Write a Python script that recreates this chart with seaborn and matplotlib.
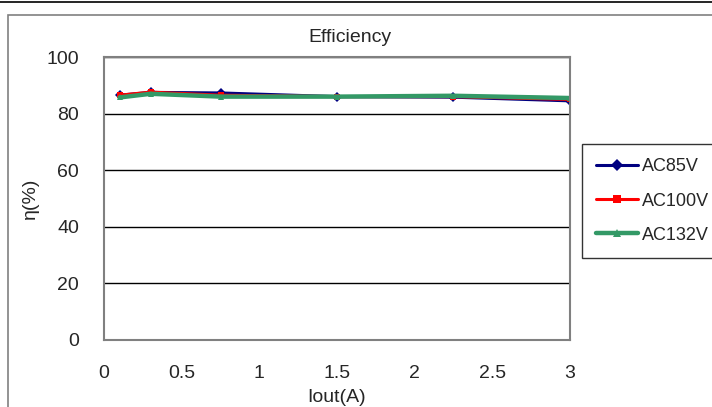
import matplotlib
matplotlib.use("Agg")
import matplotlib.pyplot as plt
import seaborn as sns
import pandas as pd
from matplotlib.patches import Rectangle
from matplotlib.lines import Line2D

# data
iout = [0.1, 0.3, 0.75, 1.5, 2.25, 3.0]
ac85 = [86.5, 87.5, 87.3, 86.0, 85.8, 84.5]
ac100 = [86.5, 87.6, 86.5, 86.0, 86.0, 85.0]
ac132 = [85.7, 87.0, 86.0, 86.0, 86.3, 85.5]
series = ["AC85V", "AC100V", "AC132V"]

df = pd.concat([
    pd.DataFrame({"Iout": iout, "eff": v, "series": s})
    for s, v in zip(series, [ac85, ac100, ac132])
])

sns.set_style("white")
plt.rcParams['font.family'] = ['Liberation Sans', 'DejaVu Sans']

colors = {"AC85V": "#000080", "AC100V": "#FF0000", "AC132V": "#339966"}
markers = {"AC85V": "D", "AC100V": "s", "AC132V": "^"}
widths = {"AC85V": 2.2, "AC100V": 2.2, "AC132V": 3.2}

fig = plt.figure(figsize=(7.12, 4.07), dpi=100)
# outer chart frame and top rule
fig.patches.append(Rectangle((8 / 712, -0.05), 1.0, (407 - 15) / 407 + 0.05,
                             transform=fig.transFigure, fill=False,
                             edgecolor="#808080", linewidth=1.2))
fig.lines.append(Line2D([0, 1], [1 - 2 / 407, 1 - 2 / 407], transform=fig.transFigure,
                        color="black", linewidth=1.2))

ax = fig.add_axes([104 / 712, 67 / 407, (570 - 104) / 712, (340 - 57) / 407])

for s in series:
    sub = df[df["series"] == s]
    sns.lineplot(data=sub, x="Iout", y="eff", ax=ax, color=colors[s],
                 marker=markers[s], markersize=5, markeredgewidth=0,
                 linewidth=widths[s], label=s, legend=False)

ax.set_xlim(0, 3)
ax.set_ylim(0, 100)
ax.set_xticks([0, 0.5, 1, 1.5, 2, 2.5, 3])
ax.set_xticklabels(["0", "0.5", "1", "1.5", "2", "2.5", "3"])
ax.set_yticks([0, 20, 40, 60, 80, 100])
ax.yaxis.grid(True, color="black", linewidth=1.0)
ax.set_axisbelow(True)
for sp in ax.spines.values():
    sp.set_color("#808080")
    sp.set_linewidth(1.5)
ax.tick_params(axis="x", direction="in", length=5, color="#808080", pad=18, labelsize=14)
ax.tick_params(axis="y", length=0, pad=18, labelsize=14)
ax.set_xlabel("Iout(A)", fontsize=14)
ax.xaxis.set_label_coords(0.5, -(398 - 340) / 283, transform=ax.transAxes)
ax.xaxis.label.set_va("center")
ax.set_ylabel("η(%)", fontsize=14)
ax.yaxis.set_label_coords((30 - 104) / 466, 0.5, transform=ax.transAxes)
ax.yaxis.label.set_va("center")

fig.text(350 / 712, 1 - 38 / 407, "Efficiency", ha="center", va="center", fontsize=14)

handles = [Line2D([], [], color=colors[s], marker=markers[s], markersize=6,
                  markeredgewidth=0, linewidth=widths[s]) for s in series]
leg = fig.legend(handles, series, loc="upper left",
                 bbox_to_anchor=(582 / 712, 1 - 144 / 407),
                 frameon=True, fancybox=False, fontsize=13,
                 handlelength=2.3, handletextpad=0.2, labelspacing=0.95,
                 borderpad=0.8, borderaxespad=0)
leg.get_frame().set_edgecolor("black")
leg.get_frame().set_linewidth(1.0)

fig.savefig("out.png", dpi=100)
